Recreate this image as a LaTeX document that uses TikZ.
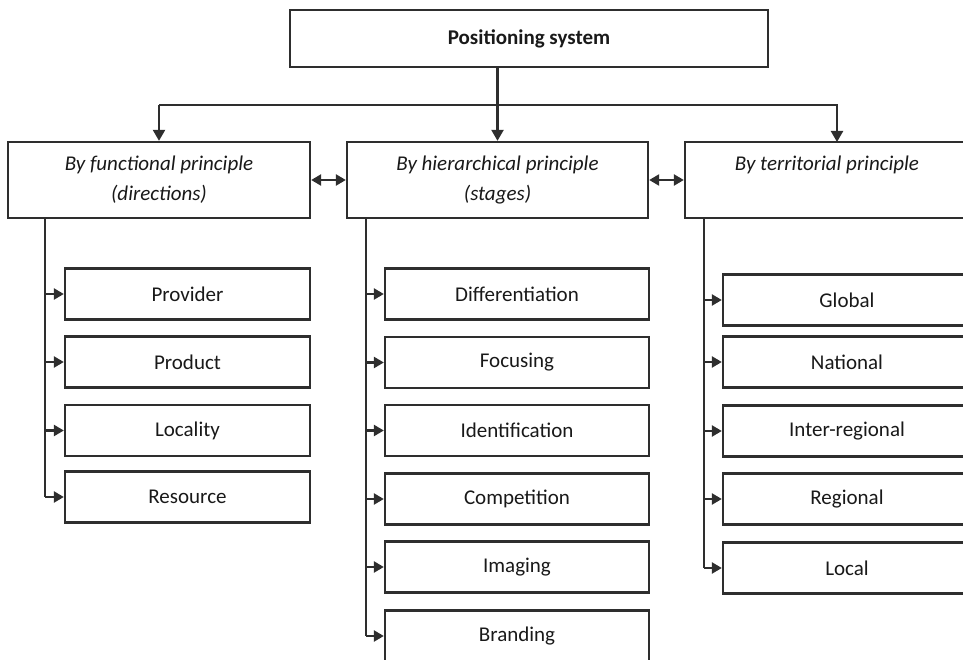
\documentclass[tikz,border=0pt]{standalone}
\usepackage{fontspec}
\setmainfont{Carlito}
\usetikzlibrary{arrows.meta}
\definecolor{linec}{HTML}{2E2E2E}
\begin{document}
\begin{tikzpicture}[x=1pt,y=-1pt,
  box/.style={draw=linec, line width=2.3pt, inner sep=0pt, fill=white, align=center,
    text=black!90, font=\fontsize{21}{30}\selectfont},
  headbox/.style={box, minimum height=76pt, font=\fontsize{21}{30}\selectfont\itshape},
  lbox/.style={box, minimum width=245pt, minimum height=51pt},
  mbox/.style={box, minimum width=264pt, minimum height=51pt},
  rbox/.style={box, minimum width=248pt, minimum height=51pt},
  bigtip/.tip={Triangle[length=11pt,width=12pt]},
  smalltip/.tip={Triangle[length=10pt,width=11pt]},
  conn/.style={draw=linec, line width=2.3pt, -bigtip},
  cconn/.style={draw=linec, line width=2.3pt, -smalltip},
  line/.style={draw=linec, line width=2.3pt},
  dconn/.style={draw=linec, line width=2.3pt, smalltip-smalltip}]
\useasboundingbox (0,0) rectangle (963,660);
\clip (0,0) rectangle (963,660);

% top
\node[box, minimum width=478pt, minimum height=57pt, font=\fontsize{21}{30}\selectfont\bfseries] (top) at (529,38.5) {Positioning system};

% second level
\node[headbox, minimum width=302pt] (lb) at (159,180) {By functional principle\\(directions)};
\node[headbox, minimum width=301pt] (mb) at (497.5,180) {By hierarchical principle\\(stages)};
\node[headbox, minimum width=284pt] (rb) at (827,180) {By territorial principle\\\phantom{(levels)}};

% bus
\coordinate (bus) at (0,105);
\coordinate (rtop) at (837,142);
\draw[conn] (top.south -| mb.north) -- (mb.north);
\draw[conn] (lb.north |- bus) -- (lb.north);
\draw[conn] (lb.north |- bus) -- (rtop |- bus) -- (rtop);

% double arrows
\draw[dconn] (lb.east) -- (mb.west);
\draw[dconn] (mb.east) -- (rb.west);

% left column
\node[lbox] (l1) at (187.5,294) {Provider};
\node[lbox] (l2) at (187.5,362) {Product};
\node[lbox] (l3) at (187.5,430.5) {Locality};
\node[lbox] (l4) at (187.5,497) {Resource};
\coordinate (lx) at (45,0);
\draw[line] (lx |- lb.south) -- (lx |- l4.west);
\foreach \n in {l1,l2,l3,l4} \draw[cconn] (lx |- \n.west) -- (\n.west);

% middle column
\node[mbox] (m1) at (517,294) {Differentiation};
\node[mbox] (m2) at (517,362.5) {Focusing};
\node[mbox] (m3) at (517,430.5) {Identification};
\node[mbox] (m4) at (517,499) {Competition};
\node[mbox] (m5) at (517,567) {Imaging};
\node[mbox] (m6) at (517,636) {Branding};
\coordinate (mx) at (366,0);
\draw[line] (mx |- mb.south) -- (mx |- m6.west);
\foreach \n in {m1,m2,m3,m4,m5,m6} \draw[cconn] (mx |- \n.west) -- (\n.west);

% right column
\node[rbox] (r1) at (847,300) {Global};
\node[rbox] (r2) at (847,362) {National};
\node[rbox] (r3) at (847,431) {Inter-regional};
\node[rbox] (r4) at (847,499) {Regional};
\node[rbox] (r5) at (847,568) {Local};
\coordinate (rx) at (704,0);
\draw[line] (rx |- rb.south) -- (rx |- r5.west);
\foreach \n in {r1,r2,r3,r4,r5} \draw[cconn] (rx |- \n.west) -- (\n.west);
\end{tikzpicture}
\end{document}
